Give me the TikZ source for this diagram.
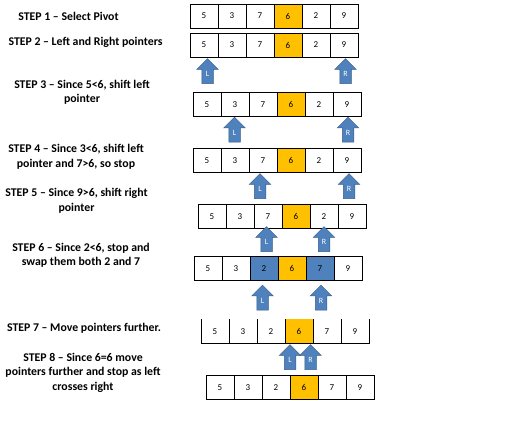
\documentclass[tikz,border=0pt]{standalone}
\usepackage{fontspec}
\setmainfont{Carlito}
\usepackage{tikz}
\usetikzlibrary{shapes.arrows,positioning}
\definecolor{pivotc}{HTML}{FFC000}
\definecolor{ptrc}{HTML}{4F81BD}
\definecolor{ptrd}{HTML}{385D8A}

\begin{document}
\begin{tikzpicture}
		[x=1pt,y=-1pt,
		cell/.style={draw=black,line width=0.9pt,fill=white,inner sep=0pt,outer sep=0pt,
			minimum width=28pt,minimum height=24pt,font=\fontsize{9}{10}\selectfont},
		opencell/.style={cell,draw=none},
		pivot/.style={cell,fill=pivotc},
		swapped/.style={cell,fill=ptrc},
		pointer/.style={single arrow,shape border rotate=90,draw=ptrd,fill=ptrc,
			line width=0.5pt,text=white,font=\fontsize{8}{8}\selectfont,
			text width=5pt,align=center,inner xsep=3pt,inner ysep=2pt,
			minimum height=25pt,single arrow head extend=5pt},
		steptext/.style={align=center,font=\fontsize{11.8}{14.5}\selectfont\bfseries}]
		\useasboundingbox (0,0) rectangle (515,422);
		%---------------------textos de los pasos ------------
		\node[steptext] (s1) at (68.5,16) {STEP 1 – Select Pivot};
		\node[steptext] (s2) at (85.5,42) {STEP 2 – Left and Right pointers};
		\node[steptext] (s3) at (82,92.5) {STEP 3 – Since 5<6, shift left\\pointer};
		\node[steptext] (s4) at (76,157) {STEP 4 – Since 3<6, shift left\\pointer and 7>6, so stop};
		\node[steptext] (s5) at (76.5,201) {STEP 5 – Since 9>6, shift right\\pointer};
		\node[steptext] (s6) at (81,255.5) {STEP 6 – Since 2<6, stop and\\swap them both 2 and 7};
		\node[steptext] (s7) at (84,328) {STEP 7 – Move pointers further.};
		\node[steptext] (s8) at (83,372.5) {STEP 8 – Since 6=6 move\\pointers further and stop as left\\crosses right};
		%---------------------primera fila ------------
		\node[cell] (r1c1) at (204,16) {5};
		\node[cell] (r1c2) at (232,16) {3};
		\node[cell] (r1c3) at (260,16) {7};
		\node[pivot] (r1c4) at (288,16) {6};
		\node[cell] (r1c5) at (316,16) {2};
		\node[cell] (r1c6) at (344,16) {9};
		%---------------------segunda fila ------------
		\node[cell] (r2c1) at (204,45) {5};
		\node[cell] (r2c2) at (232,45) {3};
		\node[cell] (r2c3) at (260,45) {7};
		\node[pivot] (r2c4) at (288,45) {6};
		\node[cell] (r2c5) at (316,45) {2};
		\node[cell] (r2c6) at (344,45) {9};
		\node[pointer] (p2L) at (207.5,74) {L};
		\node[pointer] (p2R) at (345.5,74) {R};
		%---------------------tercera fila ------------
		\node[cell] (r3c1) at (207,104.5) {5};
		\node[cell] (r3c2) at (235,104.5) {3};
		\node[cell] (r3c3) at (263,104.5) {7};
		\node[pivot] (r3c4) at (291,104.5) {6};
		\node[cell] (r3c5) at (319,104.5) {2};
		\node[cell] (r3c6) at (347,104.5) {9};
		\node[pointer] (p3L) at (234.5,132.5) {L};
		\node[pointer] (p3R) at (348,132.5) {R};
		%---------------------cuarta fila ------------
		\node[cell] (r4c1) at (207,160.5) {5};
		\node[cell] (r4c2) at (235,160.5) {3};
		\node[cell] (r4c3) at (263,160.5) {7};
		\node[pivot] (r4c4) at (291,160.5) {6};
		\node[cell] (r4c5) at (319,160.5) {2};
		\node[cell] (r4c6) at (347,160.5) {9};
		\node[pointer] (p4L) at (260,189) {L};
		\node[pointer] (p4R) at (349,189) {R};
		%---------------------quinta fila ------------
		\node[cell] (r5c1) at (212,216.5) {5};
		\node[cell] (r5c2) at (240,216.5) {3};
		\node[cell] (r5c3) at (268,216.5) {7};
		\node[pivot] (r5c4) at (296,216.5) {6};
		\node[cell] (r5c5) at (324,216.5) {2};
		\node[cell] (r5c6) at (352,216.5) {9};
		\node[pointer] (p5L) at (266.5,242) {L};
		\node[pointer] (p5R) at (324,242) {R};
		%---------------------sexta fila ------------
		\node[cell] (r6c1) at (208,268.5) {5};
		\node[cell] (r6c2) at (236,268.5) {3};
		\node[swapped] (r6c3) at (264,268.5) {2};
		\node[pivot] (r6c4) at (292,268.5) {6};
		\node[swapped] (r6c5) at (320,268.5) {7};
		\node[cell] (r6c6) at (348,268.5) {9};
		\node[pointer] (p6L) at (262.5,300.5) {L};
		\node[pointer] (p6R) at (321,300.5) {R};
		%---------------------septima fila (sin borde arriba) ------------
		\node[opencell] (r7c1) at (215,331.5) {5};
		\node[opencell] (r7c2) at (243,331.5) {3};
		\node[opencell] (r7c3) at (271,331.5) {2};
		\node[opencell,fill=pivotc] (r7c4) at (299,331.5) {6};
		\node[opencell] (r7c5) at (327,331.5) {7};
		\node[opencell] (r7c6) at (355,331.5) {9};
		\draw[line width=0.9pt] (r7c1.north west) -- (r7c1.south west) -- (r7c6.south east) -- (r7c6.north east);
		\draw[line width=0.9pt] (r7c2.north west) -- (r7c2.south west);
		\draw[line width=0.9pt] (r7c3.north west) -- (r7c3.south west);
		\draw[line width=0.9pt] (r7c4.north west) -- (r7c4.south west);
		\draw[line width=0.9pt] (r7c5.north west) -- (r7c5.south west);
		\draw[line width=0.9pt] (r7c6.north west) -- (r7c6.south west);
		\node[pointer] (p7L) at (290,360) {L};
		\node[pointer] (p7R) at (310.5,360) {R};
		%---------------------octava fila ------------
		\node[cell] (r8c1) at (220,387.5) {5};
		\node[cell] (r8c2) at (248,387.5) {3};
		\node[cell] (r8c3) at (276,387.5) {2};
		\node[pivot] (r8c4) at (304,387.5) {6};
		\node[cell] (r8c5) at (332,387.5) {7};
		\node[cell] (r8c6) at (360,387.5) {9};
\end{tikzpicture}
\end{document}
